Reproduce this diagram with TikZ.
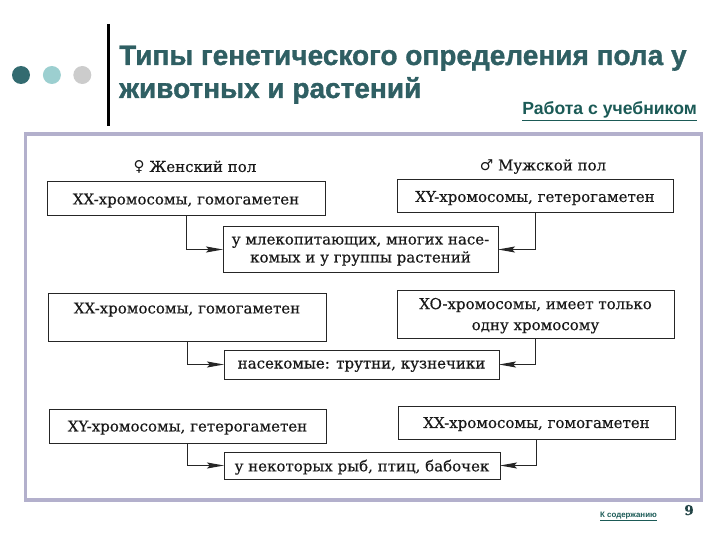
\documentclass[tikz,border=0pt]{standalone}
\usepackage{fontspec}
\setmainfont{Liberation Sans}
\newfontfamily\headfont[BoldFont={Liberation Sans Bold},BoldFeatures={FakeBold=1.2}]{Liberation Sans}
\newfontfamily\bookfont[FakeBold=0.4]{DejaVu Serif}
\newfontfamily\signfont{DejaVu Sans}
\usepackage{xcolor}
\usetikzlibrary{arrows.meta,positioning}
\definecolor{titleteal}{HTML}{2F5F63}
\definecolor{linkteal}{HTML}{1B5A56}
\definecolor{dotdark}{HTML}{336B70}
\definecolor{dotlight}{HTML}{9CCFD0}
\definecolor{dotgrey}{HTML}{CCCCCC}
\definecolor{panelrim}{HTML}{B3B0CC}

\begin{document}
\begin{tikzpicture}[
    x=1pt, y=-1pt,
    dotmark/.style={circle, minimum size=18pt, inner sep=0pt},
    headline/.style={anchor=base west, inner sep=0pt, text=titleteal, font=\headfont\bfseries\fontsize{28}{30}\selectfont},
    factbox/.style={rectangle, draw=black!85, line width=1pt, minimum width=278pt, minimum height=34pt, inner sep=0pt, outer sep=0pt, align=center, text depth=0pt, text=black!90, font=\bookfont\fontsize{15}{18}\selectfont},
    groupbox/.style={factbox, minimum width=275pt},
    sexlabel/.style={inner sep=0pt, text=black!90, font=\bookfont\fontsize{15}{18}\selectfont},
    feed/.style={draw=black!85, line width=1pt, -{Stealth[length=17pt,width=6pt,inset=3pt]}},
]

\useasboundingbox (0,0) rectangle (720,540);

% Slide header
\node[dotmark, fill=dotdark] (dotone) at (21,75) {};
\node[dotmark, fill=dotlight, right=12.5pt of dotone] (dottwo) {};
\node[dotmark, fill=dotgrey, right=12pt of dottwo] (dotthree) {};
\coordinate (ruletop) at (108,24);
\coordinate (rulebottom) at (108,126);
\draw[line width=3pt] (ruletop) -- (rulebottom);
\node[headline] (title) at (119,65) {Типы генетического определения пола у};
\node[headline] (subtitle) at (119,98) {животных и растений};
\node[anchor=base east, inner sep=0pt, text=linkteal, font=\bfseries\fontsize{17.6}{18}\selectfont] (booklink) at (697,115) {\underline{Работа с учебником}};

% Panel
\node[rectangle, draw=panelrim, line width=3.5pt, minimum width=676pt, minimum height=366pt, inner sep=0pt, outer sep=0pt] (panel) at (363.5,317) {};

% First group
\node[factbox] (femaleone) at (186,199) {XX-хромосомы, гомогаметен};
\node[factbox, minimum width=276pt, minimum height=33pt] (maleone) at (535,196.5) {XY-хромосомы, гетерогаметен};
\node[sexlabel, above=8pt of femaleone, xshift=9pt] (femalesign) {{\signfont ♀} Женский пол};
\node[sexlabel, above=6pt of maleone, xshift=8pt] (malesign) {{\signfont ♂} Мужской пол};
\node[groupbox, minimum height=45pt, below right=11pt and -102pt of femaleone] (groupone) {у млекопитающих, многих насе-\\комых и у группы растений};

% Second group
\node[factbox, minimum height=48pt] (femaletwo) at (187,317) {XX-хромосомы, гомогаметен\\ \mbox{}};
\node[factbox, minimum width=277pt, minimum height=48pt] (maletwo) at (535.5,314) {XO-хромосомы, имеет только\\[3pt]одну хромосому};
\node[groupbox, minimum height=29pt, below right=9pt and -102pt of femaletwo] (grouptwo) {насекомые: трутни, кузнечики};

% Third group
\node[factbox, minimum width=277pt] (femalethree) at (187.5,426) {XY-хромосомы, гетерогаметен};
\node[factbox, minimum width=277pt, minimum height=33pt] (malethree) at (536.5,422.5) {XX-хромосомы, гомогаметен};
\node[groupbox, minimum width=276pt, minimum height=27pt, below right=9pt and -102pt of femalethree] (groupthree) {у некоторых рыб, птиц, бабочек};

% Footer
\node[anchor=base, inner sep=0pt, text=linkteal, font=\bfseries\fontsize{7.9}{8}\selectfont] (contents) at (628.5,517) {\underline{К содержанию}};
\node[anchor=base, inner sep=0pt, text=titleteal!70!black, font=\bookfont\bfseries\fontsize{13.5}{14}\selectfont] (pagenum) at (689,515) {9};

% Arrows
\draw[feed] (femaleone) |- (groupone);
\draw[feed] (maleone) |- (groupone);
\draw[feed] (femaletwo) |- (grouptwo);
\draw[feed] (maletwo) |- (grouptwo);
\draw[feed] (femalethree) |- (groupthree);
\draw[feed] (malethree) |- (groupthree);

\end{tikzpicture}
\end{document}
